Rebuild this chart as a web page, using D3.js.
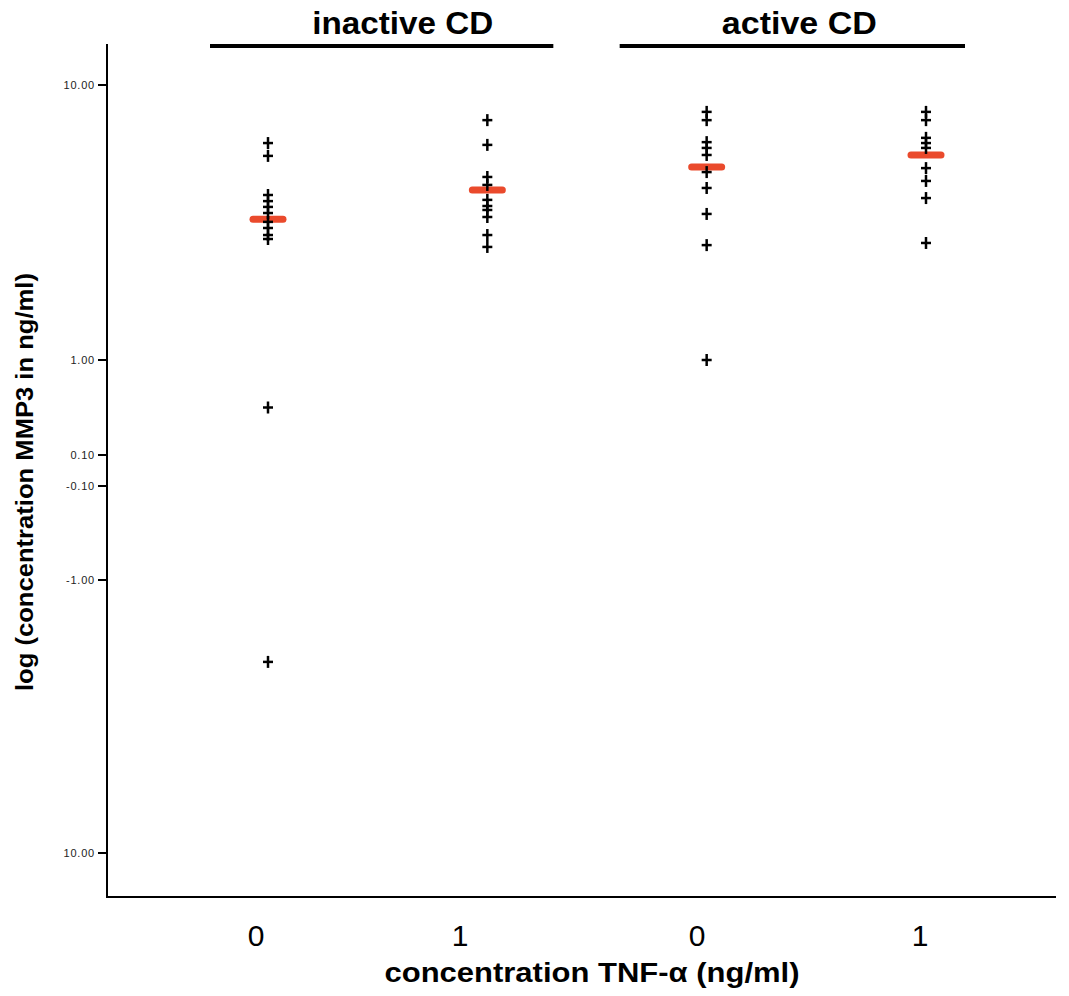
<!DOCTYPE html>
<html>
<head>
<meta charset="utf-8">
<script src="https://cdnjs.cloudflare.com/ajax/libs/d3/7.8.5/d3.min.js"></script>
<style>
  body { margin: 0; background: #fff; }
  text { font-family: "Liberation Sans", Arial, sans-serif; }
</style>
</head>
<body>
<div id="chart"></div>
<script>
// groups on the x axis
var groups = ["inactive-0", "inactive-1", "active-0", "active-1"];
var groupLabels = ["0", "1", "0", "1"];

// MMP3 values, in axis units
var inactive0 = [8.10, 7.68, 6.40, 6.20, 6.01, 5.81, 5.52, 5.32, 5.09, 4.96, 0.55, -3.70];
var inactive1 = [8.85, 8.04, 6.99, 6.73, 6.24, 6.04, 5.91, 5.68, 5.09, 4.70];
var active0 = [9.12, 8.85, 8.13, 7.94, 7.71, 7.15, 6.63, 5.78, 4.76, 1.00];
var active1 = [9.12, 8.85, 8.27, 8.10, 7.94, 7.28, 6.86, 6.30, 4.83];
var medians = [5.61, 6.56, 7.32, 7.71];

// the odd y axis of the original
var yTicks = [10, 1, 0.1, -0.1, -1, -10];
var yTickLabels = ["10.00", "1.00", "0.10", "-0.10", "-1.00", "10.00"];

// brackets above the plot
var brackets = [
  {name: "inactive CD", from: "inactive-0", to: "inactive-1"},
  {name: "active CD", from: "active-0", to: "active-1"}
];

var width = 1069, height = 996;
var svg = d3.select("#chart").append("svg")
    .attr("width", width).attr("height", height);

var x = d3.scalePoint().domain(groups).range([268, 926]);
// tick labels sit a bit left of the points in the original
var xLab = d3.scaleOrdinal().domain(groups).range([256, 460, 697, 920]);
var y = d3.scaleLinear().domain(yTicks).range([85, 360, 455, 486, 580, 853]);

var series = [inactive0, inactive1, active0, active1];

// axes lines
svg.append("line").attr("x1", 107).attr("x2", 107).attr("y1", 44).attr("y2", 898)
    .attr("stroke", "#000").attr("stroke-width", 2);
svg.append("line").attr("x1", 106).attr("x2", 1056).attr("y1", 897).attr("y2", 897)
    .attr("stroke", "#000").attr("stroke-width", 2);

// y ticks
var yt = svg.selectAll(".yt").data(yTicks).enter().append("g")
    .attr("transform", function(d) { return "translate(0," + y(d) + ")"; });
yt.append("line").attr("x1", 98).attr("x2", 107).attr("stroke", "#000").attr("stroke-width", 2);
yt.append("text").attr("x", 95).attr("dy", "0.35em").attr("text-anchor", "end")
    .attr("font-size", 11).attr("letter-spacing", 0.8).attr("fill", "#222")
    .text(function(d, i) { return yTickLabels[i]; });

// x tick labels
svg.selectAll(".xl").data(groups).enter().append("text")
    .attr("x", function(d) { return xLab(d); })
    .attr("y", 946).attr("text-anchor", "middle").attr("font-size", 30)
    .text(function(d, i) { return groupLabels[i]; });

// axis titles
svg.append("text").attr("x", 592).attr("y", 982).attr("text-anchor", "middle")
    .attr("font-size", 27).attr("font-weight", "bold")
    .attr("textLength", 415).attr("lengthAdjust", "spacingAndGlyphs")
    .text("concentration TNF-\u03b1 (ng/ml)");
svg.append("text").attr("transform", "translate(33,482) rotate(-90)")
    .attr("text-anchor", "middle").attr("font-size", 23).attr("font-weight", "bold")
    .attr("textLength", 418).attr("lengthAdjust", "spacingAndGlyphs")
    .text("log (concentration MMP3 in ng/ml)");

// brackets (extents as in the original)
var bracketPad = [[58, 66], [87, 39]];
brackets.forEach(function(b, i) {
  var x1 = x(b.from) - bracketPad[i][0], x2 = x(b.to) + bracketPad[i][1];
  svg.append("line").attr("x1", x1).attr("x2", x2).attr("y1", 46).attr("y2", 46)
      .attr("stroke", "#000").attr("stroke-width", 4);
  svg.append("text").attr("x", (x1 + x2) / 2 + (i === 0 ? 21 : 7)).attr("y", 34)
      .attr("text-anchor", "middle").attr("font-size", 32).attr("font-weight", "bold")
      .attr("textLength", i === 0 ? 181 : 155).attr("lengthAdjust", "spacingAndGlyphs")
      .text(b.name);
});

// medians
svg.selectAll(".med").data(medians).enter().append("line")
    .attr("x1", function(d, i) { return x(groups[i]) - 15; })
    .attr("x2", function(d, i) { return x(groups[i]) + 15; })
    .attr("y1", function(d) { return y(d); })
    .attr("y2", function(d) { return y(d); })
    .attr("stroke", "#ea4a2c").attr("stroke-width", 7).attr("stroke-linecap", "round");

// crosses
series.forEach(function(vals, i) {
  var g = svg.append("g");
  vals.forEach(function(v) {
    var cx = x(groups[i]), cy = y(v);
    g.append("line").attr("x1", cx - 5).attr("x2", cx + 5).attr("y1", cy).attr("y2", cy)
        .attr("stroke", "#000").attr("stroke-width", 2.5);
    g.append("line").attr("x1", cx).attr("x2", cx).attr("y1", cy - 6).attr("y2", cy + 6)
        .attr("stroke", "#000").attr("stroke-width", 2.5);
  });
});
</script>
</body>
</html>
